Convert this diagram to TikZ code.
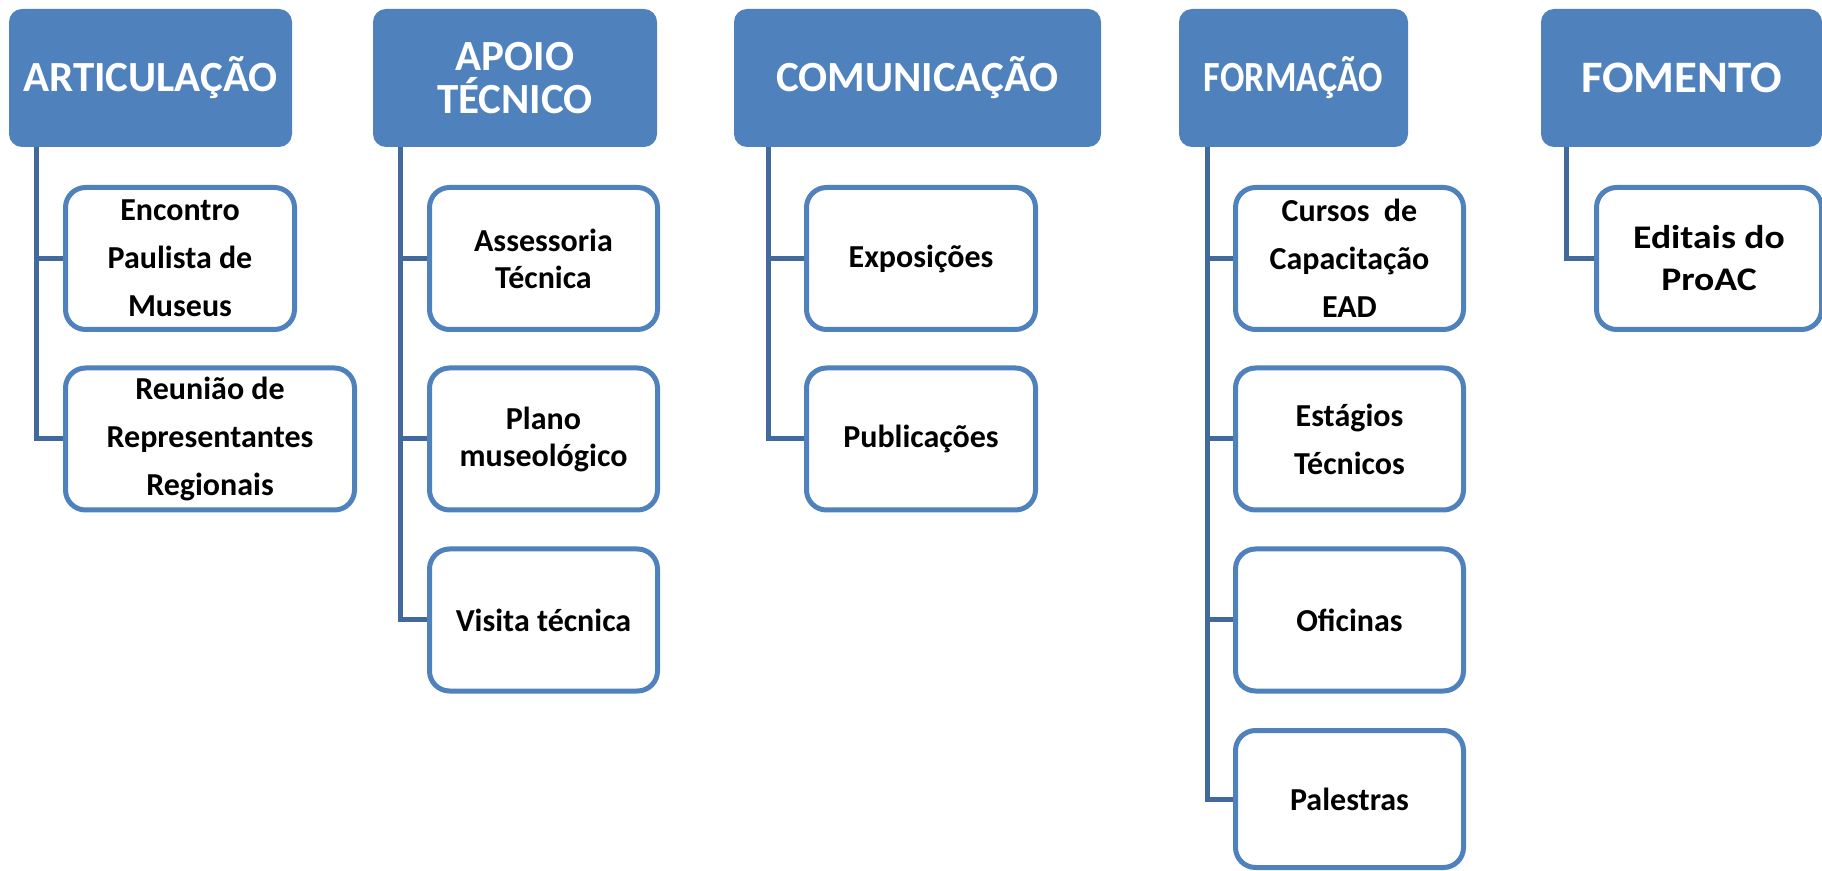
\documentclass[tikz,border=0pt]{standalone}
\usepackage{fontspec}
\setmainfont{Carlito}
\usetikzlibrary{backgrounds}
\definecolor{hdrblue}{HTML}{4F81BD}
\definecolor{lineblue}{HTML}{41699B}
\begin{document}
\begin{tikzpicture}[x=0.5pt,y=-0.5pt,
  hdr/.style={fill=hdrblue, rounded corners=6.5pt, text=white, minimum height=69pt,
    font=\fontsize{21.5}{21.5}\selectfont\bfseries, align=center, inner sep=0pt},
  kid/.style={draw=hdrblue, line width=2.5pt, fill=white, rounded corners=10pt, minimum height=71pt,
    font=\fontsize{16}{24}\selectfont\bfseries, align=center, inner sep=0pt},
  conn/.style={draw=lineblue, line width=2.5pt}]
\useasboundingbox (0,0) rectangle (1822,871);

% headers
\node[hdr, minimum width=141.5pt] (a) at (150.5,78) {ARTICULAÇÃO};
\node[hdr, minimum width=142pt] (b) at (515,78) {APOIO\\TÉCNICO};
\node[hdr, minimum width=183.5pt] (c) at (917.5,78) {COMUNICAÇÃO};
\node[hdr, minimum width=114.5pt, font=\fontsize{21.5}{21.5}\selectfont\bfseries\addfontfeatures{FakeStretch=0.84}] (d) at (1293.5,78) {FORMAÇÃO};
\node[hdr, minimum width=140.5pt, font=\fontsize{22.5}{22.5}\selectfont\bfseries\addfontfeatures{FakeStretch=1.04}] (e) at (1681.5,78) {FOMENTO};

% line positions
\coordinate (la) at (36,0);
\coordinate (lb) at (400,0);
\coordinate (lc) at (768,0);
\coordinate (ld) at (1207,0);
\coordinate (le) at (1566,0);

% children
\node[kid, minimum width=114.5pt] (a1) at (180,258.5) {Encontro\\Paulista de\\Museus};
\node[kid, minimum width=144.5pt] (a2) at (210,439) {Reunião de\\Representantes\\Regionais};

\node[kid, minimum width=114pt, font=\fontsize{16}{18.5}\selectfont\bfseries] (b1) at (543.5,258.5) {Assessoria\\Técnica};
\node[kid, minimum width=114pt, font=\fontsize{16}{18.5}\selectfont\bfseries] (b2) at (543.5,439) {Plano\\museológico};
\node[kid, minimum width=114pt] (b3) at (543.5,620) {Visita técnica};

\node[kid, minimum width=114.5pt] (c1) at (921,258.5) {Exposições};
\node[kid, minimum width=114.5pt] (c2) at (921,439) {Publicações};

\node[kid, minimum width=114pt] (d1) at (1349.5,258.5) {Cursos~ de\\Capacitação\\EAD};
\node[kid, minimum width=114pt] (d2) at (1349.5,439) {Estágios\\Técnicos};
\node[kid, minimum width=114pt] (d3) at (1349.5,620) {Oficinas};
\node[kid, minimum width=114pt, minimum height=68.5pt] (d4) at (1349.5,799) {Palestras};

\node[kid, minimum width=112.5pt, font=\fontsize{16.5}{21}\selectfont\bfseries\addfontfeatures{FakeStretch=1.14}] (e1) at (1709,258.5) {Editais do\\ProAC};

% connectors
\begin{scope}[on background layer]
\draw[conn] (a.south -| la) |- (a2.west);
\draw[conn] (la |- a1.west) -- (a1.west);

\draw[conn] (b.south -| lb) |- (b3.west);
\draw[conn] (lb |- b1.west) -- (b1.west);
\draw[conn] (lb |- b2.west) -- (b2.west);

\draw[conn] (c.south -| lc) |- (c2.west);
\draw[conn] (lc |- c1.west) -- (c1.west);

\draw[conn] (d.south -| ld) |- (d4.west);
\draw[conn] (ld |- d1.west) -- (d1.west);
\draw[conn] (ld |- d2.west) -- (d2.west);
\draw[conn] (ld |- d3.west) -- (d3.west);

\draw[conn] (e.south -| le) |- (e1.west);
\end{scope}
\end{tikzpicture}
\end{document}
